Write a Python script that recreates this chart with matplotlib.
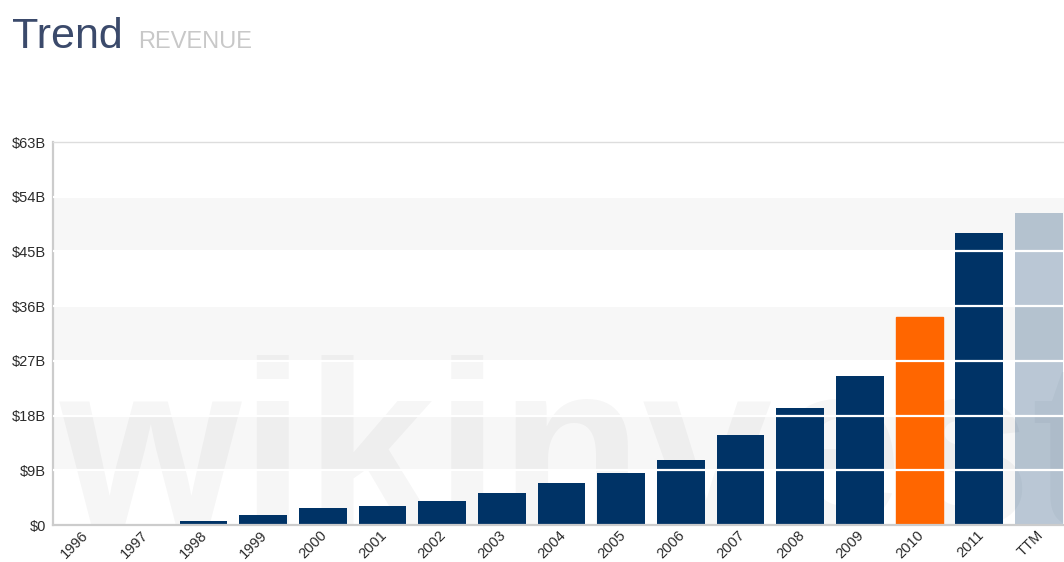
import matplotlib

matplotlib.use("Agg")
import matplotlib.pyplot as plt
import matplotlib.transforms as mtransforms
import numpy as np


# revenue in $B
YEARS = ["1996", "1997", "1998", "1999", "2000", "2001", "2002", "2003", "2004",
         "2005", "2006", "2007", "2008", "2009", "2010", "2011", "TTM"]
REVENUE = [0.02, 0.15, 0.61, 1.64, 2.76, 3.12, 3.93, 5.26, 6.92,
           8.49, 10.71, 14.84, 19.17, 24.51, 34.20, 48.08, 51.40]
Y_TICKS = [0, 9, 18, 27, 36, 45, 54, 63]
HIGHLIGHT = "2010"
CURRENT = "TTM"

NAVY = "#003366"
ORANGE = "#ff6600"

plt.rcParams["font.family"] = ["Liberation Sans", "DejaVu Sans"]

fig = plt.figure(figsize=(10.64, 5.62), dpi=100)
fig.patch.set_facecolor("white")
ax = fig.add_axes([53 / 1064, 37 / 562, 1 - 53 / 1064, 383 / 562])

x = np.arange(len(YEARS))
bars = ax.bar(x, REVENUE, width=0.8, color=NAVY, zorder=2)
for bar, year in zip(bars, YEARS):
    if year == HIGHLIGHT:
        bar.set_color(ORANGE)
    elif year == CURRENT:
        # trailing twelve months drawn see-through
        bar.set_alpha(0.27)

# alternating bands
for lo in Y_TICKS[1::2]:
    ax.axhspan(lo, lo + 9, color="#f7f7f7", lw=0, zorder=0)
# white gridlines drawn over the bars
for t in Y_TICKS[1:-1]:
    ax.axhline(t, color="white", lw=1.6, zorder=3)

# faint watermark behind the bars
ax.text(7 / 1011, 0.0, "wikinvest", transform=ax.transAxes,
        fontsize=168, fontweight="bold", color="black", alpha=0.035,
        ha="left", va="baseline", zorder=1, clip_on=True)

ax.set_xlim(-0.52, 16.42)
ax.set_ylim(0, 63)
ax.set_yticks(Y_TICKS)
ax.set_yticklabels(["$0"] + [f"${t}B" for t in Y_TICKS[1:]])
ax.set_xticks(x)
ax.set_xticklabels(YEARS, rotation=45, ha="right", va="top", rotation_mode="anchor")
ax.tick_params(axis="both", length=0, labelsize=10.5, colors="#2b2b2b")
ax.tick_params(axis="y", pad=5)
ax.tick_params(axis="x", pad=2)

shift = mtransforms.ScaledTranslation(-3 / 100, 0, fig.dpi_scale_trans)
for lbl in ax.get_xticklabels():
    lbl.set_transform(lbl.get_transform() + shift)

for side in ["left", "bottom"]:
    ax.spines[side].set_color("#cccccc")
    ax.spines[side].set_linewidth(1.6)
ax.spines["top"].set_color("#dddddd")
ax.spines["top"].set_linewidth(1.0)
ax.spines["right"].set_visible(False)

fig.text(12 / 1064, 1 - 48 / 562, "Trend", fontsize=31, color="#3b4a6b", ha="left", va="baseline")
fig.text(138 / 1064, 1 - 48 / 562, "REVENUE", fontsize=17, color="#c8c8c8", ha="left", va="baseline")

fig.savefig("out.png", dpi=100)
